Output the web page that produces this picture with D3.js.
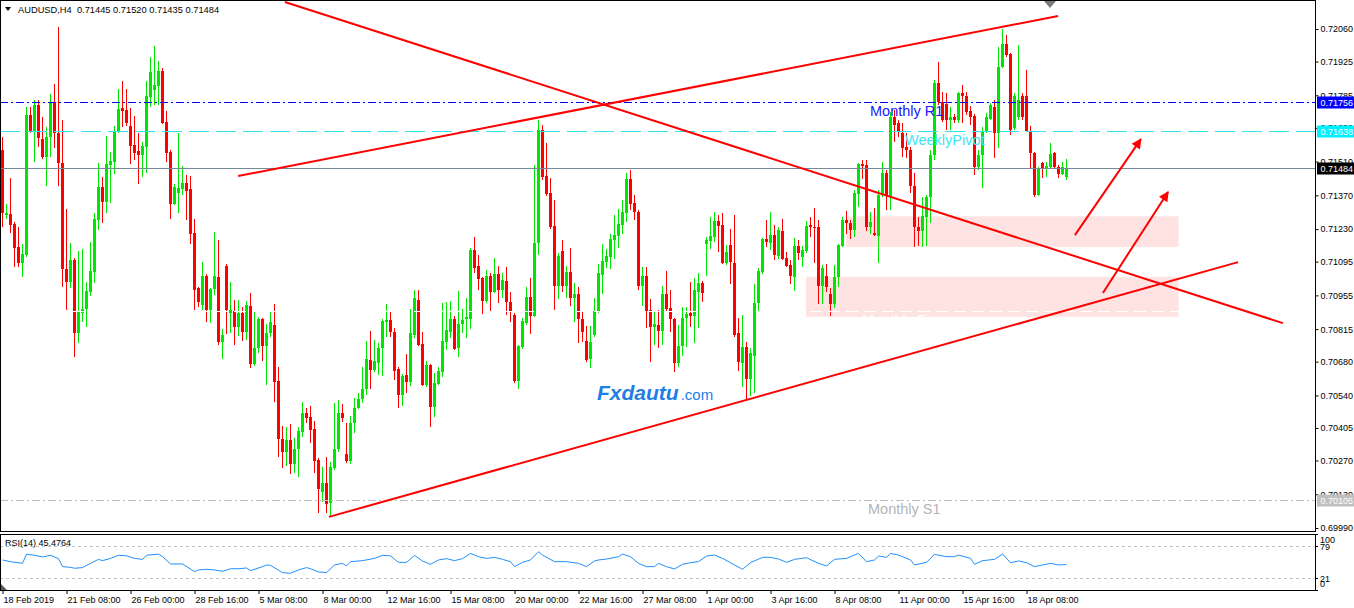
<!DOCTYPE html>
<html>
<head>
<meta charset="utf-8">
<script src="https://cdn.jsdelivr.net/npm/d3@7"></script>
<style>
body { margin: 0; background: #fff; }
svg text { font-family: "Liberation Sans", Arial, sans-serif; }
</style>
</head>
<body>
<svg id="chart" width="1354" height="608"></svg>
<script>
//chart data (AUDUSD, H4)
var symbolName = "AUDUSD,H4";

var opens = [
0.71558,0.71288,0.71292,0.71250,0.71156,0.71090,0.71122,0.71703,0.71633,0.71744,
0.71604,0.71529,0.71612,0.71757,0.71629,0.71504,0.71065,0.71011,0.71102,0.70799,
0.70882,0.70899,0.70969,0.71052,0.71267,0.71404,0.71342,0.71495,0.71508,0.71633,
0.71732,0.71724,0.71657,0.71578,0.71554,0.71537,0.71570,0.71778,0.71807,0.71823,
0.71886,0.71674,0.71550,0.71333,0.71380,0.71396,0.71421,0.71396,0.71214,0.70986,
0.70915,0.71035,0.70894,0.70982,0.71031,0.70762,0.71077,0.70882,0.70890,0.70824,
0.70882,0.70803,0.70911,0.70670,0.70737,0.70857,0.70745,0.70799,0.70832,0.70600,
0.70359,0.70305,0.70355,0.70255,0.70317,0.70388,0.70466,0.70450,0.70400,0.70272,
0.70139,0.70176,0.70094,0.70238,0.70317,0.70466,0.70296,0.70268,0.70425,0.70487,
0.70525,0.70566,0.70687,0.70645,0.70675,0.70737,0.70845,0.70853,0.70803,0.70650,
0.70541,0.70625,0.70596,0.70790,0.70936,0.70753,0.70583,0.70666,0.70492,0.70587,
0.70637,0.70762,0.70803,0.70857,0.70737,0.70836,0.70857,0.70857,0.71143,0.71077,
0.71027,0.70932,0.71035,0.70969,0.71043,0.70977,0.71015,0.70928,0.70874,0.70600,
0.70741,0.70841,0.70948,0.70869,0.71172,0.71641,0.71450,0.71380,0.71242,0.70994,
0.71139,0.70994,0.71052,0.70944,0.70961,0.70857,0.70766,0.70691,0.70790,0.70886,
0.71040,0.71094,0.71114,0.71185,0.71201,0.71246,0.71297,0.71438,0.71338,0.71301,
0.70994,0.71035,0.70894,0.70824,0.70832,0.70807,0.70961,0.70903,0.70857,0.70675,
0.70745,0.70861,0.70882,0.70869,0.70969,0.71007,0.71168,0.71181,0.71197,0.71263,
0.71246,0.71090,0.71164,0.71090,0.70799,0.70675,0.70741,0.70608,0.70704,0.70923,
0.71052,0.71189,0.71173,0.71205,0.71118,0.71222,0.71110,0.71081,0.71031,0.71160,
0.71114,0.71139,0.71246,0.71238,0.71238,0.70994,0.71035,0.70961,0.70919,0.71031,
0.71160,0.71267,0.71255,0.71226,0.71375,0.71499,0.71495,0.71238,0.71214,0.71201,
0.71371,0.71463,0.71363,0.71695,0.71670,0.71629,0.71570,0.71558,0.71408,0.71238,
0.71222,0.71280,0.71363,0.71537,0.71836,0.71757,0.71749,0.71682,0.71695,0.71682,
0.71794,0.71782,0.71720,0.71699,0.71487,0.71537,0.71637,0.71687,0.71736,0.71629,
0.71902,0.71998,0.71956,0.71649,0.71695,0.71782,0.71782,0.71637,0.71546,0.71371,
0.71504,0.71479,0.71487,0.71546,0.71487,0.71458,0.71445];

var highs = [
0.71612,0.71333,0.71442,0.71259,0.71238,0.71168,0.71736,0.71736,0.71765,0.71765,
0.71695,0.71653,0.71790,0.71831,0.72068,0.71682,0.71313,0.71173,0.71110,0.71139,
0.71148,0.71011,0.71177,0.71297,0.71504,0.71446,0.71616,0.71550,0.71657,0.71811,
0.71844,0.71811,0.71732,0.71699,0.71629,0.71591,0.71844,0.71944,0.71989,0.71927,
0.71898,0.71720,0.71558,0.71416,0.71629,0.71491,0.71454,0.71450,0.71272,0.70990,
0.71094,0.71043,0.70986,0.71218,0.71185,0.70816,0.71085,0.71011,0.70936,0.70936,
0.70907,0.70932,0.70965,0.70890,0.70865,0.70861,0.70836,0.70886,0.70919,0.70658,
0.70413,0.70409,0.70421,0.70363,0.70409,0.70512,0.70487,0.70496,0.70434,0.70280,
0.70243,0.70284,0.70263,0.70508,0.70521,0.70504,0.70425,0.70454,0.70529,0.70550,
0.70658,0.70766,0.70807,0.70770,0.70758,0.70857,0.70919,0.70886,0.70820,0.70658,
0.70629,0.70712,0.70899,0.70977,0.70977,0.70803,0.70683,0.70670,0.70633,0.70658,
0.70924,0.70928,0.70932,0.70869,0.70973,0.70899,0.70944,0.71152,0.71197,0.71122,
0.71031,0.71060,0.71048,0.71110,0.71077,0.71048,0.71073,0.70969,0.70882,0.70749,
0.70861,0.70990,0.71027,0.71495,0.71682,0.71662,0.71587,0.71442,0.71350,0.71131,
0.71185,0.71077,0.71152,0.71007,0.70990,0.70886,0.70828,0.70828,0.70944,0.71085,
0.71168,0.71148,0.71209,0.71288,0.71313,0.71350,0.71463,0.71475,0.71371,0.71309,
0.71073,0.71073,0.70940,0.70890,0.70894,0.70994,0.71056,0.70977,0.70861,0.70832,
0.70907,0.70907,0.71011,0.71027,0.71048,0.71015,0.71197,0.71280,0.71301,0.71288,
0.71297,0.71164,0.71230,0.71288,0.70861,0.70874,0.70762,0.70737,0.71002,0.71069,
0.71193,0.71267,0.71301,0.71246,0.71238,0.71272,0.71135,0.71102,0.71193,0.71185,
0.71160,0.71263,0.71280,0.71317,0.71267,0.71081,0.71085,0.70986,0.71081,0.71168,
0.71280,0.71305,0.71267,0.71392,0.71504,0.71516,0.71516,0.71301,0.71317,0.71392,
0.71508,0.71475,0.71716,0.71724,0.71682,0.71670,0.71629,0.71570,0.71463,0.71280,
0.71363,0.71371,0.71558,0.71848,0.71923,0.71798,0.71794,0.71736,0.71707,0.71798,
0.71827,0.71798,0.71741,0.71707,0.71558,0.71653,0.71712,0.71753,0.71765,0.71985,
0.72060,0.72035,0.71960,0.71794,0.71994,0.71794,0.71890,0.71657,0.71550,0.71487,
0.71508,0.71508,0.71587,0.71550,0.71496,0.71508,0.71520];

var lows = [
0.71238,0.71272,0.71214,0.71073,0.71073,0.71031,0.71114,0.71629,0.71508,0.71570,
0.71521,0.71408,0.71529,0.71566,0.71408,0.70990,0.70894,0.70986,0.70699,0.70758,
0.70845,0.70824,0.70952,0.71007,0.71226,0.71255,0.71297,0.71338,0.71458,0.71629,
0.71653,0.71657,0.71499,0.71516,0.71416,0.71446,0.71463,0.71736,0.71744,0.71744,
0.71665,0.71508,0.71272,0.71329,0.71297,0.71371,0.71267,0.71168,0.70894,0.70907,
0.70894,0.70845,0.70841,0.70956,0.70749,0.70691,0.70794,0.70799,0.70749,0.70786,
0.70766,0.70770,0.70654,0.70662,0.70716,0.70683,0.70583,0.70782,0.70513,0.70284,
0.70238,0.70247,0.70213,0.70218,0.70201,0.70367,0.70425,0.70342,0.70218,0.70052,
0.70098,0.70052,0.70035,0.70230,0.70305,0.70429,0.70259,0.70255,0.70384,0.70483,
0.70508,0.70541,0.70566,0.70637,0.70625,0.70620,0.70782,0.70782,0.70604,0.70488,
0.70496,0.70550,0.70579,0.70778,0.70745,0.70579,0.70575,0.70409,0.70450,0.70583,
0.70616,0.70728,0.70778,0.70728,0.70699,0.70799,0.70778,0.70816,0.71048,0.70977,
0.70878,0.70924,0.70886,0.70965,0.70924,0.70944,0.70874,0.70845,0.70592,0.70566,
0.70732,0.70832,0.70794,0.70865,0.71122,0.71433,0.71367,0.71230,0.70894,0.70940,
0.70969,0.70944,0.70911,0.70845,0.70758,0.70762,0.70679,0.70654,0.70782,0.70882,
0.70961,0.71069,0.71065,0.71106,0.71152,0.71209,0.71259,0.71309,0.71267,0.70977,
0.70911,0.70820,0.70679,0.70749,0.70737,0.70749,0.70886,0.70803,0.70637,0.70658,
0.70704,0.70741,0.70824,0.70758,0.70820,0.70928,0.71035,0.71148,0.71177,0.71135,
0.71085,0.71081,0.71002,0.70782,0.70641,0.70575,0.70521,0.70537,0.70550,0.70886,
0.71044,0.71156,0.71143,0.71102,0.71106,0.71102,0.71073,0.71002,0.70973,0.71102,
0.71073,0.71131,0.71197,0.71090,0.70919,0.70919,0.70969,0.70870,0.70903,0.70990,
0.71156,0.71209,0.71189,0.71197,0.71321,0.71438,0.71222,0.71209,0.71201,0.71090,
0.71363,0.71309,0.71309,0.71591,0.71612,0.71529,0.71525,0.71380,0.71156,0.71160,
0.71156,0.71160,0.71255,0.71516,0.71744,0.71674,0.71641,0.71641,0.71670,0.71670,
0.71670,0.71703,0.71662,0.71454,0.71475,0.71400,0.71629,0.71682,0.71525,0.71566,
0.71898,0.71944,0.71620,0.71641,0.71682,0.71682,0.71633,0.71483,0.71363,0.71367,
0.71442,0.71446,0.71483,0.71483,0.71442,0.71454,0.71435];

var closes = [
0.71297,0.71297,0.71246,0.71152,0.71090,0.71126,0.71703,0.71637,0.71744,0.71608,
0.71529,0.71612,0.71757,0.71629,0.71504,0.71065,0.71011,0.71102,0.70799,0.70890,
0.70899,0.70973,0.71056,0.71272,0.71404,0.71342,0.71499,0.71512,0.71633,0.71728,
0.71720,0.71670,0.71574,0.71546,0.71537,0.71574,0.71782,0.71882,0.71827,0.71886,
0.71670,0.71546,0.71333,0.71404,0.71400,0.71421,0.71388,0.71209,0.70977,0.70928,
0.71035,0.70894,0.70982,0.71035,0.70762,0.70790,0.70894,0.70894,0.70824,0.70882,
0.70803,0.70915,0.70670,0.70737,0.70857,0.70745,0.70799,0.70845,0.70596,0.70359,
0.70305,0.70355,0.70255,0.70317,0.70392,0.70466,0.70446,0.70396,0.70268,0.70151,
0.70176,0.70089,0.70243,0.70317,0.70466,0.70446,0.70268,0.70425,0.70487,0.70525,
0.70566,0.70691,0.70645,0.70683,0.70737,0.70849,0.70853,0.70803,0.70641,0.70541,
0.70620,0.70596,0.70799,0.70944,0.70749,0.70583,0.70666,0.70492,0.70591,0.70641,
0.70766,0.70811,0.70857,0.70732,0.70836,0.70853,0.70865,0.71143,0.71069,0.71023,
0.70932,0.71035,0.70969,0.71043,0.70977,0.71019,0.70928,0.70886,0.70600,0.70745,
0.70849,0.70948,0.70869,0.71172,0.71641,0.71446,0.71375,0.71238,0.70994,0.71118,
0.70994,0.71052,0.70944,0.70961,0.70857,0.70803,0.70687,0.70762,0.70890,0.71048,
0.71098,0.71118,0.71189,0.71205,0.71250,0.71301,0.71438,0.71333,0.71301,0.70994,
0.71035,0.70890,0.70824,0.70836,0.70807,0.70961,0.70899,0.70857,0.70675,0.70745,
0.70861,0.70878,0.70869,0.70977,0.71007,0.70965,0.71185,0.71201,0.71263,0.71242,
0.71090,0.71135,0.71094,0.70790,0.70679,0.70741,0.70608,0.70716,0.70923,0.71056,
0.71189,0.71177,0.71205,0.71122,0.71226,0.71106,0.71077,0.71035,0.71160,0.71131,
0.71143,0.71242,0.71238,0.71234,0.70994,0.71069,0.70990,0.70919,0.71031,0.71164,
0.71267,0.71255,0.71226,0.71380,0.71499,0.71491,0.71238,0.71259,0.71205,0.71371,
0.71463,0.71371,0.71695,0.71662,0.71633,0.71566,0.71558,0.71408,0.71238,0.71222,
0.71284,0.71363,0.71537,0.71836,0.71757,0.71682,0.71682,0.71695,0.71682,0.71794,
0.71782,0.71716,0.71695,0.71487,0.71537,0.71637,0.71695,0.71744,0.71629,0.71902,
0.71998,0.71952,0.71641,0.71782,0.71765,0.71695,0.71637,0.71546,0.71371,0.71483,
0.71479,0.71491,0.71541,0.71487,0.71458,0.71487,0.71484];

//RSI(14): bar index and value
var rsiBars = [0,2,5,6,8,10,12,14,15,17,18,20,22,24,25,27,29,31,33,35,36,39,40,42,45,48,49,51,53,55,
57,59,61,62,65,66,67,70,72,74,76,77,79,81,83,85,86,87,90,93,95,97,99,101,103,105,107,109,111,113,
115,117,119,121,123,125,127,128,130,132,134,135,138,141,144,146,148,
149,151,154,155,157,159,161,163,164,166,168,170,172,174,176,178,180,183,185,187,
190,192,194,196,198,201,204,206,208,211,214,216,218,219,221,222,224,227,228,231,
233,236,238,239,242,243,245,248,250,252,254,256,258,260,262,264,266];
var rsiValues = [53.6,50.6,47.6,64,62,59,62,56,41.7,40.5,38.8,40,47.6,54.7,52.4,56.5,62,61,56.5,54.7,
62,64,59.5,46.5,46.5,32.8,35.8,37,35.8,33.4,38,38,39.3,34.6,41.7,44.7,44,31,29.9,35.8,
40,38,32.2,31,44.7,47.6,43,50.6,52.4,56.5,61.8,61,49.4,49.4,61.8,51.8,45.9,53.6,56,52.4,
56,65.4,59.5,56.5,58.3,54.7,50.6,41.7,49.4,53.6,68.3,62.4,50.6,50.6,47.6,41.7,51.8,
53.6,55.3,59.5,64.2,59.5,47.6,41.7,41.7,47.6,41.7,37.6,45.9,48.8,50.6,60.6,62.4,56.5,44.7,37,48.8,
58.3,58.3,55.3,49.4,54.7,57.7,47.6,43,54.7,56.5,65.4,50.6,53.6,60.6,58.3,65.4,62.4,53.6,44.7,49.4,
63.6,59.5,59.5,62.4,56.5,45.9,52.4,54.7,64.2,48.8,51.8,48.8,41.7,44.7,47.6,44.7,45.4764];
var rsiLevels = [79, 21];
var rsiScaleLabels = [100, 79, 21, 0];

//pivot levels
var levelNames = ["Monthly R1", "WeeklyPivot", "Monthly Pivot", "Monthly S1"];
var levelPrices = [0.71756, 0.71638, 0.70890, 0.70105];

//price axis and time axis
var priceTicks = [0.72060, 0.71925, 0.71785, 0.71650, 0.71510, 0.71370, 0.71230, 0.71095,
    0.70955, 0.70815, 0.70680, 0.70540, 0.70405, 0.70270, 0.70130, 0.69990];
var timeTickBars = [0, 16, 32, 48, 64, 80, 96, 112, 128, 144, 160, 176, 192, 208, 224, 240, 256];
var timeLabels = ["18 Feb 2019", "21 Feb 08:00", "26 Feb 00:00", "28 Feb 16:00", "5 Mar 08:00",
    "8 Mar 00:00", "12 Mar 16:00", "15 Mar 08:00", "20 Mar 00:00", "22 Mar 16:00", "27 Mar 08:00",
    "1 Apr 00:00", "3 Apr 16:00", "8 Apr 08:00", "11 Apr 00:00", "15 Apr 16:00", "18 Apr 08:00"];

//drawn objects (bar index, price)
var lineFromBar = [70.6, 58.9, 81.6];
var lineFromPrice = [0.72172, 0.71450, 0.70036];
var lineToBar = [320.1, 263.9, 308.9];
var lineToPrice = [0.70840, 0.72114, 0.71093];

var arrowFromBar = [268.1, 275.1];
var arrowFromPrice = [0.71205, 0.70965];
var arrowToBar = [284.6, 291.4];
var arrowToPrice = [0.71603, 0.71384];

var zoneFromBar = [210.9, 200.9];
var zoneToBar = [294, 294];
var zoneTop = [0.71283, 0.71032];
var zoneBottom = [0.71156, 0.70866];

//layout
var W = 1354, H = 608;
var plotRight = 1315;
var mainBottom = 531;
var rsiTop = 534, rsiBottom = 590;
var upColor = "#00e600", downColor = "#ff0000";
var fmt = d3.format(".5f");

var levelStyle = {
    "Monthly R1": { stroke: "#0000ff", dash: "8,3,2,3", text: "#1818ff", box: "#0000ff", lx: 870 },
    "WeeklyPivot": { stroke: "#33e3ec", dash: "20,7", text: "#3ce6f0", box: "#00f0ff", lx: 905 },
    "Monthly Pivot": { stroke: "#ffffff", dash: "12,6", text: "#ffffff", box: null, lx: 862 },
    "Monthly S1": { stroke: "#c0c0c0", dash: "8,3,2,3", text: "#b4b4b4", box: "#c0c0c0", lx: 868 }
};

var x = d3.scaleLinear().domain([0, 266]).range([2.5, 1066.5]);
var y = d3.scaleLinear().domain([0.69990, 0.72060]).range([528, 29]);
var yr = d3.scaleLinear().domain([0, 100]).range([rsiBottom, rsiTop]);

var svg = d3.select("#chart");
svg.append("rect").attr("width", W).attr("height", H).attr("fill", "#fff");

var defs = svg.append("defs");
defs.append("clipPath").attr("id", "mainClip")
    .append("rect").attr("x", 0).attr("y", 0).attr("width", plotRight).attr("height", mainBottom);
defs.append("clipPath").attr("id", "rsiClip")
    .append("rect").attr("x", 0).attr("y", rsiTop).attr("width", plotRight).attr("height", rsiBottom - rsiTop);
defs.append("marker")
    .attr("id", "arrowHead")
    .attr("viewBox", "0 0 10 10")
    .attr("refX", 9).attr("refY", 5)
    .attr("markerWidth", 6.5).attr("markerHeight", 5)
    .attr("orient", "auto")
    .append("path").attr("d", "M0,0 L10,5 L0,10 z").attr("fill", "#ff0000");

var main = svg.append("g").attr("clip-path", "url(#mainClip)");

//support zones
var zones = zoneFromBar.map(function (d, i) {
    return { from: d, to: zoneToBar[i], top: zoneTop[i], bottom: zoneBottom[i] };
});
main.selectAll(".zone").data(zones).enter().append("rect")
    .attr("class", "zone")
    .attr("x", function (d) { return x(d.from); })
    .attr("width", function (d) { return x(d.to) - x(d.from); })
    .attr("y", function (d) { return y(d.top); })
    .attr("height", function (d) { return y(d.bottom) - y(d.top); })
    .attr("fill", "#ffe2e2");

//candles
var candles = opens.map(function (o, i) {
    return { i: i, o: o, h: highs[i], l: lows[i], c: closes[i] };
});
var cg = main.append("g").attr("shape-rendering", "crispEdges");
cg.selectAll(".wick").data(candles).enter().append("line")
    .attr("class", "wick")
    .attr("x1", function (d) { return x(d.i); })
    .attr("x2", function (d) { return x(d.i); })
    .attr("y1", function (d) { return y(d.h); })
    .attr("y2", function (d) { return y(d.l); })
    .attr("stroke", function (d) { return d.c >= d.o ? upColor : downColor; })
    .attr("stroke-width", 1);
cg.selectAll(".body").data(candles).enter().append("rect")
    .attr("class", "body")
    .attr("x", function (d) { return x(d.i) - 1.5; })
    .attr("width", 3)
    .attr("y", function (d) { return Math.min(y(d.o), y(d.c)); })
    .attr("height", function (d) { return Math.max(1, Math.abs(y(d.o) - y(d.c))); })
    .attr("fill", function (d) { return d.c >= d.o ? upColor : downColor; });

//pivot lines
var levels = levelNames.map(function (n, i) { return { name: n, price: levelPrices[i] }; });
var lg = main.append("g");
lg.selectAll("line").data(levels).enter().append("line")
    .attr("x1", 0).attr("x2", plotRight)
    .attr("y1", function (d) { return Math.round(y(d.price)) + 0.5; })
    .attr("y2", function (d) { return Math.round(y(d.price)) + 0.5; })
    .attr("stroke", function (d) { return levelStyle[d.name].stroke; })
    .attr("stroke-dasharray", function (d) { return levelStyle[d.name].dash; })
    .attr("stroke-width", 1);

//last price line
var lastPrice = closes[closes.length - 1];
main.append("line")
    .attr("x1", 0).attr("x2", plotRight)
    .attr("y1", Math.round(y(lastPrice)) + 0.5).attr("y2", Math.round(y(lastPrice)) + 0.5)
    .attr("stroke", "#778899").attr("stroke-width", 1);

//trend lines
var tlines = lineFromBar.map(function (d, i) {
    return { x1: d, y1: lineFromPrice[i], x2: lineToBar[i], y2: lineToPrice[i] };
});
main.selectAll(".trend").data(tlines).enter().append("line")
    .attr("class", "trend")
    .attr("x1", function (d) { return x(d.x1); })
    .attr("y1", function (d) { return y(d.y1); })
    .attr("x2", function (d) { return x(d.x2); })
    .attr("y2", function (d) { return y(d.y2); })
    .attr("stroke", "#ff0000").attr("stroke-width", 2);

var arrows = arrowFromBar.map(function (d, i) {
    return { x1: d, y1: arrowFromPrice[i], x2: arrowToBar[i], y2: arrowToPrice[i] };
});
main.selectAll(".arrow").data(arrows).enter().append("line")
    .attr("class", "arrow")
    .attr("x1", function (d) { return x(d.x1); })
    .attr("y1", function (d) { return y(d.y1); })
    .attr("x2", function (d) { return x(d.x2); })
    .attr("y2", function (d) { return y(d.y2); })
    .attr("stroke", "#ff0000").attr("stroke-width", 2)
    .attr("marker-end", "url(#arrowHead)");

//pivot names
main.selectAll(".lvlText").data(levels).enter().append("text")
    .attr("class", "lvlText")
    .attr("x", function (d) { return levelStyle[d.name].lx; })
    .attr("y", function (d) { return y(d.price) + 14; })
    .attr("fill", function (d) { return levelStyle[d.name].text; })
    .style("font-size", "14.5px")
    .text(function (d) { return d.name; });

//watermark
var wm = svg.append("text").attr("x", 597).attr("y", 400).attr("fill", "#1e7ee6");
wm.append("tspan").style("font-size", "21px").style("font-weight", "bold").style("font-style", "italic").text("Fxdautu");
wm.append("tspan").style("font-size", "15px").attr("dx", 2).text(".com");

//shift marker
svg.append("path").attr("d", "M1044,1 L1056,1 L1050,8 Z").attr("fill", "#7a7a7a");

//RSI panel
var rg = svg.append("g").attr("clip-path", "url(#rsiClip)");
rg.selectAll(".rsiLevel").data(rsiLevels).enter().append("line")
    .attr("class", "rsiLevel")
    .attr("x1", 0).attr("x2", plotRight)
    .attr("y1", function (d) { return Math.round(yr(d)) + 0.5; })
    .attr("y2", function (d) { return Math.round(yr(d)) + 0.5; })
    .attr("stroke", "#c0c0c0").attr("stroke-dasharray", "3,3");
var rsiPts = rsiBars.map(function (b, i) { return [b, rsiValues[i]]; });
rg.append("path")
    .datum(rsiPts)
    .attr("fill", "none")
    .attr("stroke", "#1e90ff")
    .attr("stroke-width", 1)
    .attr("d", d3.line().x(function (d) { return x(d[0]); }).y(function (d) { return yr(d[1]); }));
svg.append("path").attr("d", "M1,584 L1,590 L7,590 Z").attr("fill", "#5a5a5a");
svg.append("text").attr("x", 5).attr("y", 546).style("font-size", "9px").attr("fill", "#000")
    .text("RSI(14) " + d3.format(".4f")(rsiValues[rsiValues.length - 1]));

//frames
svg.append("rect").attr("x", 0.5).attr("y", 0.5).attr("width", plotRight).attr("height", mainBottom - 0.5)
    .attr("fill", "none").attr("stroke", "#000").attr("shape-rendering", "crispEdges");
svg.append("rect").attr("x", 0.5).attr("y", rsiTop + 0.5).attr("width", plotRight).attr("height", rsiBottom - rsiTop - 0.5)
    .attr("fill", "none").attr("stroke", "#000").attr("shape-rendering", "crispEdges");

//price axis
var pAxis = svg.append("g")
    .attr("transform", "translate(" + (plotRight + 0.5) + ",0)")
    .call(d3.axisRight(y).tickValues(priceTicks).tickFormat(fmt).tickSize(3).tickPadding(2));
pAxis.select(".domain").remove();
pAxis.selectAll("text").style("font-size", "9px").style("font-family", "'Liberation Sans', Arial, sans-serif").attr("fill", "#000");
pAxis.selectAll("line").attr("stroke", "#000");

//price labels on axis
var boxes = levels.filter(function (d) { return levelStyle[d.name].box; })
    .map(function (d) { return { price: d.price, fill: levelStyle[d.name].box }; });
boxes.push({ price: lastPrice, fill: "#000000" });
var bg = svg.append("g");
bg.selectAll("rect").data(boxes).enter().append("rect")
    .attr("x", plotRight + 2).attr("width", W - plotRight - 2)
    .attr("y", function (d) { return Math.round(y(d.price)) - 5.5; })
    .attr("height", 12)
    .attr("fill", function (d) { return d.fill; });
bg.selectAll("text").data(boxes).enter().append("text")
    .attr("x", plotRight + 5.5)
    .attr("y", function (d) { return Math.round(y(d.price)) + 4; })
    .attr("fill", "#fff")
    .style("font-size", "9px")
    .text(function (d) { return fmt(d.price); });

//RSI axis
var rsiLabelShift = { 100: 9, 79: 4, 21: 3.5, 0: -3 };
svg.selectAll(".rsiTick").data(rsiScaleLabels).enter().append("line")
    .attr("class", "rsiTick")
    .attr("x1", plotRight).attr("x2", plotRight + 3)
    .attr("y1", function (d) { return Math.round(yr(d)) + 0.5; })
    .attr("y2", function (d) { return Math.round(yr(d)) + 0.5; })
    .attr("stroke", "#000");
svg.selectAll(".rsiLbl").data(rsiScaleLabels).enter().append("text")
    .attr("class", "rsiLbl")
    .attr("x", plotRight + 5)
    .attr("y", function (d) { return yr(d) + rsiLabelShift[d]; })
    .style("font-size", "9px")
    .text(function (d) { return d; });

//time axis
var tAxis = svg.append("g")
    .attr("transform", "translate(0," + rsiBottom + ")")
    .call(d3.axisBottom(x).tickValues(timeTickBars)
        .tickFormat(function (d, i) { return timeLabels[i]; })
        .tickSize(4).tickPadding(3));
tAxis.select(".domain").remove();
tAxis.selectAll("line").attr("stroke", "#000");
tAxis.selectAll("text").style("font-size", "9px").style("font-family", "'Liberation Sans', Arial, sans-serif")
    .attr("text-anchor", "start").attr("dx", 0.5).attr("fill", "#000");

//header
svg.append("path").attr("d", "M5,7 L11,7 L8,11 Z").attr("fill", "#000");
svg.append("text").attr("x", 18).attr("y", 13).style("font-size", "9.3px").attr("fill", "#000")
    .style("white-space", "pre")
    .text(symbolName + "  " + fmt(opens[266]) + " " + fmt(highs[266]) + " " + fmt(lows[266]) + " " + fmt(closes[266]));
</script>
</body>
</html>
